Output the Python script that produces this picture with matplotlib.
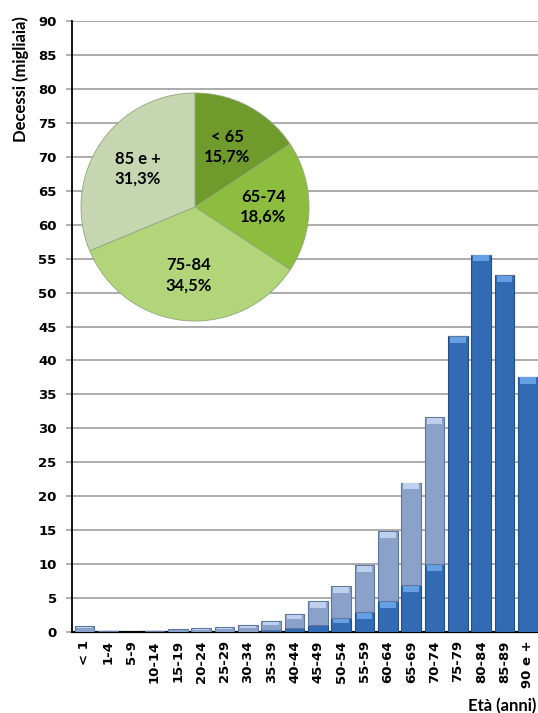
import matplotlib
matplotlib.use("Agg")
import matplotlib.pyplot as plt
import numpy as np

# ---- data ----
categories = ["< 1", "1-4", "5-9", "10-14", "15-19", "20-24", "25-29", "30-34",
              "35-39", "40-44", "45-49", "50-54", "55-59", "60-64", "65-69",
              "70-74", "75-79", "80-84", "85-89", "90 e +"]
totals = [0.9, 0.1, 0.05, 0.1, 0.4, 0.6, 0.75, 1.0, 1.6, 2.6, 4.5, 6.8, 9.8,
          14.9, 22.0, 31.6, 43.6, 55.6, 52.6, 37.6]
dark_part = [0.0, 0.1, 0.05, 0.1, 0.0, 0.0, 0.0, 0.05, 0.25, 0.65, 1.1, 2.0,
             2.9, 4.5, 6.9, 10.0, 43.6, 55.6, 52.6, 37.6]
light_part = [t - d for t, d in zip(totals, dark_part)]

pie_labels = ["< 65", "65-74", "75-84", "85 e +"]
pie_values = [15.7, 18.6, 34.5, 31.3]
pie_colors = ["#6f9a2c", "#8dbd3e", "#b2d57a", "#c6d6b1"]

yticks = list(range(0, 95, 5))

# ---- figure ----
W, H = 538, 713
fig = plt.figure(figsize=(W / 100, H / 100), dpi=100)
ax = fig.add_axes([72 / W, 1 - 632 / H, 1 - 72 / W, (632 - 21) / H])

x = np.arange(len(categories))
bw = 0.84
dark_body, dark_edge, dark_cap = "#326ab3", "#244f86", "#64a0e2"
light_body, light_edge, light_cap = "#8aa2c9", "#5f77a0", "#bed0ec"
cap_h = 0.9

ax.bar(x, dark_part, width=bw, color=dark_body, edgecolor=dark_edge,
       linewidth=0.8, zorder=3)
ax.bar(x, light_part, width=bw, bottom=dark_part, color=light_body,
       edgecolor=light_edge, linewidth=0.8, zorder=3)
# bevel highlights on top of each segment
for xi, d, l in zip(x, dark_part, light_part):
    if d > 1.5:
        h = min(cap_h, d * 0.3)
        ax.bar(xi, h, width=bw * 0.8, bottom=d - h - 0.1, color=dark_cap,
               linewidth=0, zorder=4)
    if l > 0.5:
        top = d + l
        h = min(cap_h, l * 0.3)
        ax.bar(xi, h, width=bw * 0.8, bottom=top - h - 0.1, color=light_cap,
               linewidth=0, zorder=4)

ax.set_xlim(-0.53, len(categories) - 0.57)
ax.set_ylim(0, 90)
ax.set_yticks(yticks)
ax.set_yticklabels([str(v) for v in yticks], fontsize=9.5, fontweight="bold",
                   family="DejaVu Sans")
ax.set_xticks(x)
ax.set_xticklabels(categories, rotation=90, fontsize=9.5, fontweight="bold",
                   family="DejaVu Sans")
ax.tick_params(axis="y", length=4, color="#a6a6a6", width=1.2, pad=7)
ax.tick_params(axis="x", length=0, pad=6)
ax.grid(axis="y", color="#a6a6a6", linewidth=1.3, zorder=0)
ax.set_axisbelow(True)
for s in ["top", "right"]:
    ax.spines[s].set_visible(False)
ax.spines["left"].set_linewidth(1.3)
ax.spines["bottom"].set_linewidth(1.6)

fig.text(21 / W, 1 - 79 / H, "Decessi (migliaia)", rotation=90, ha="center",
         va="center", fontsize=12, fontweight="bold", family="Lato")
fig.text(536 / W, 1 - 706 / H, "Età (anni)", ha="right", va="center",
         fontsize=12, fontweight="bold", family="Lato")

# ---- pie inset ----
cx, cy, r = 195, 207, 114
pax = fig.add_axes([(cx - r) / W, 1 - (cy + r) / H, 2 * r / W, 2 * r / H])
texts = [f"{n}\n{str(v).replace('.', ',')}%" for n, v in zip(pie_labels, pie_values)]
wedges, tlabels = pax.pie(pie_values, colors=pie_colors, startangle=90,
                          counterclock=False, labels=texts, labeldistance=0.6,
                          wedgeprops=dict(edgecolor="#8fa67a", linewidth=0.6),
                          textprops=dict(fontsize=12, fontweight="bold",
                                         family="Lato", ha="center",
                                         va="center", linespacing=1.3))
for t in tlabels:
    t.set_horizontalalignment("center")
pax.set_xlim(-1, 1)
pax.set_ylim(-1, 1)
pax.set_aspect("equal")
pax.axis("off")

fig.savefig("out.png", dpi=100, facecolor="white")
